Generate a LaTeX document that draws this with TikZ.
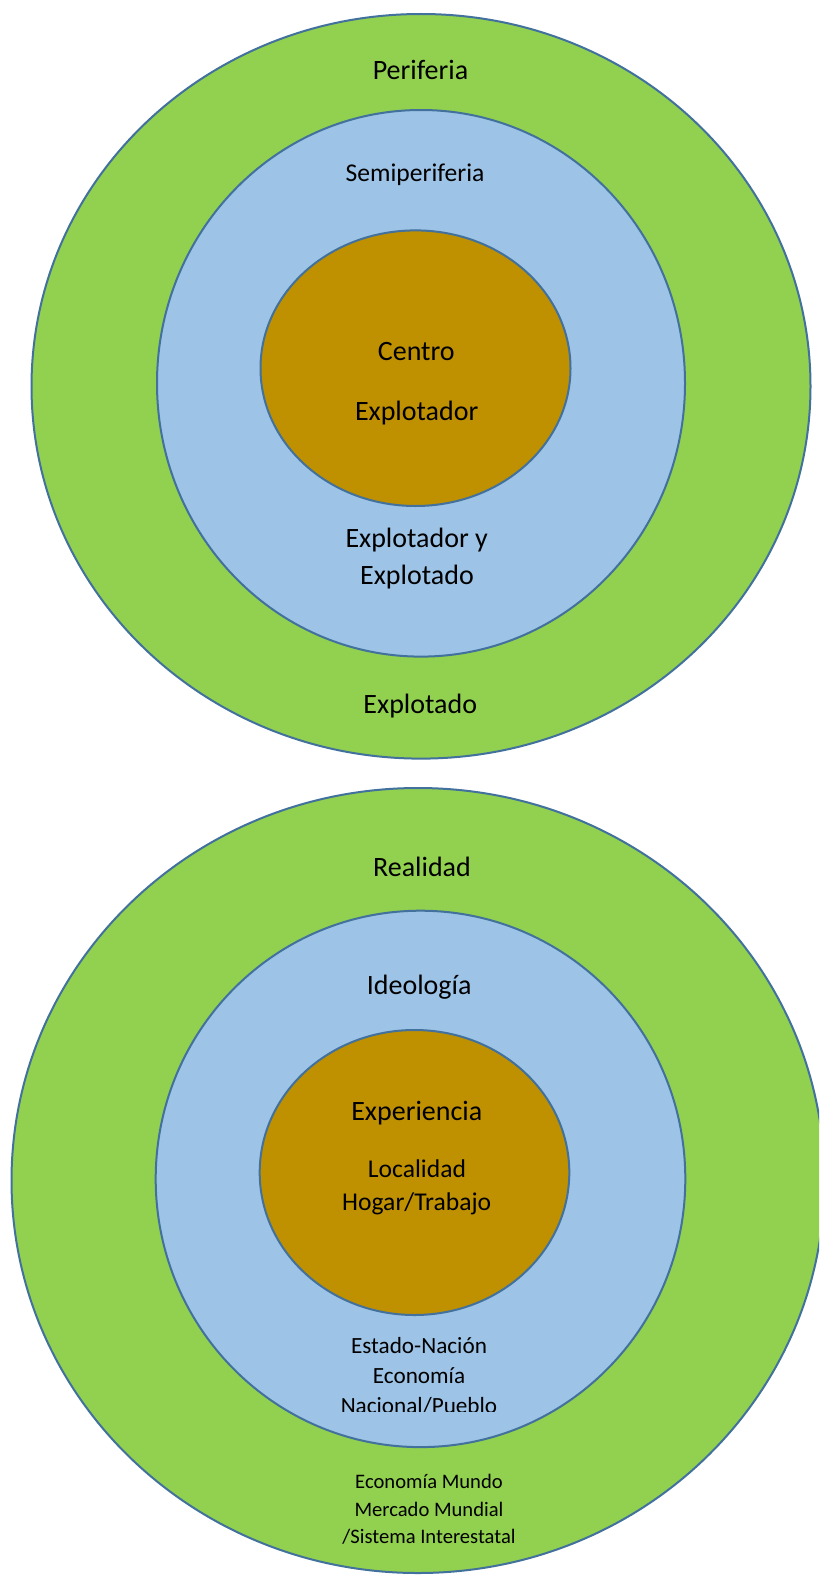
\documentclass[tikz,border=0pt]{standalone}
\usepackage{fontspec}
\setmainfont{Carlito}
\definecolor{ringgreen}{HTML}{92D050}
\definecolor{ringblue}{HTML}{9DC3E6}
\definecolor{ringgold}{HTML}{BF9000}
\definecolor{ringline}{HTML}{41719C}
\begin{document}
\begin{tikzpicture}[x=1pt,y=-1pt,
  ring/.style={draw=ringline,line width=2pt},
  lbl/.style={anchor=base,inner sep=0pt,text=black},
  fbig/.style={font=\fontsize{28}{34}\selectfont},
  fmid/.style={font=\fontsize{25.6}{31}\selectfont},
  fsmall/.style={font=\fontsize{23.2}{28}\selectfont},
  ftiny/.style={font=\fontsize{20.6}{25}\selectfont}]
\useasboundingbox (0,0) rectangle (819,1584);
\clip (0,0) rectangle (819,1584);
\fill[white] (0,0) rectangle (819,1584);

% --- world-system: centre, semi-periphery, periphery ---
\filldraw[ring,fill=ringgreen] (421,386.3) ellipse [x radius=389.5pt,y radius=372.3pt];
\filldraw[ring,fill=ringblue]  (421,383.3) ellipse [x radius=264pt,y radius=273.3pt];
\filldraw[ring,fill=ringgold]  (415.5,368.2) ellipse [x radius=155pt,y radius=137.8pt];

\node[lbl,fbig] (periferia) at (420.5,80) {Periferia};
\node[lbl,fmid] (semiper) at (415,181.7) {Semiperiferia};
\node[lbl,fbig] (centro) at (416.3,360) {Centro};
\node[lbl,fbig] (explotador) at (416.7,420) {Explotador};
\node[lbl,fbig] (explyA) at (416.7,547.7) {Explotador y};
\node[lbl,fbig] (explyB) at (417,584) {Explotado};
\node[lbl,fbig] (explotado) at (420.3,713.3) {Explotado};

% --- scales: experience, ideology, reality ---
\filldraw[ring,fill=ringgreen] (418,1180.5) ellipse [x radius=406.5pt,y radius=392.5pt];
\filldraw[ring,fill=ringblue]  (420.5,1178.9) ellipse [x radius=264.8pt,y radius=268.2pt];
\filldraw[ring,fill=ringgold]  (414.5,1172.5) ellipse [x radius=154.8pt,y radius=142.5pt];

\node[lbl,fbig] (realidad) at (422,876.7) {Realidad};
\node[lbl,fbig] (ideologia) at (419.2,994) {Ideología};
\node[lbl,fbig] (experiencia) at (416.8,1120) {Experiencia};
\node[lbl,fmid] (localidad) at (417,1177.3) {Localidad};
\node[lbl,fmid] (hogar) at (416.7,1210.7) {Hogar/Trabajo};

\node[lbl,fsmall] (estado) at (419,1353.3) {Estado-Nación};
\node[lbl,fsmall] (economia) at (419,1383.3) {Economía};
\begin{scope}
  \clip (0,0) rectangle (819,1411);
  \node[lbl,fsmall] (nacional) at (419,1413.3) {Nacional/Pueblo};
\end{scope}

\node[lbl,ftiny] (ecomundo) at (429,1488.3) {Economía Mundo};
\node[lbl,ftiny] (mercado) at (429,1516) {Mercado Mundial};
\node[lbl,ftiny] (sistema) at (429,1543.3) {/Sistema Interestatal};
\end{tikzpicture}
\end{document}
